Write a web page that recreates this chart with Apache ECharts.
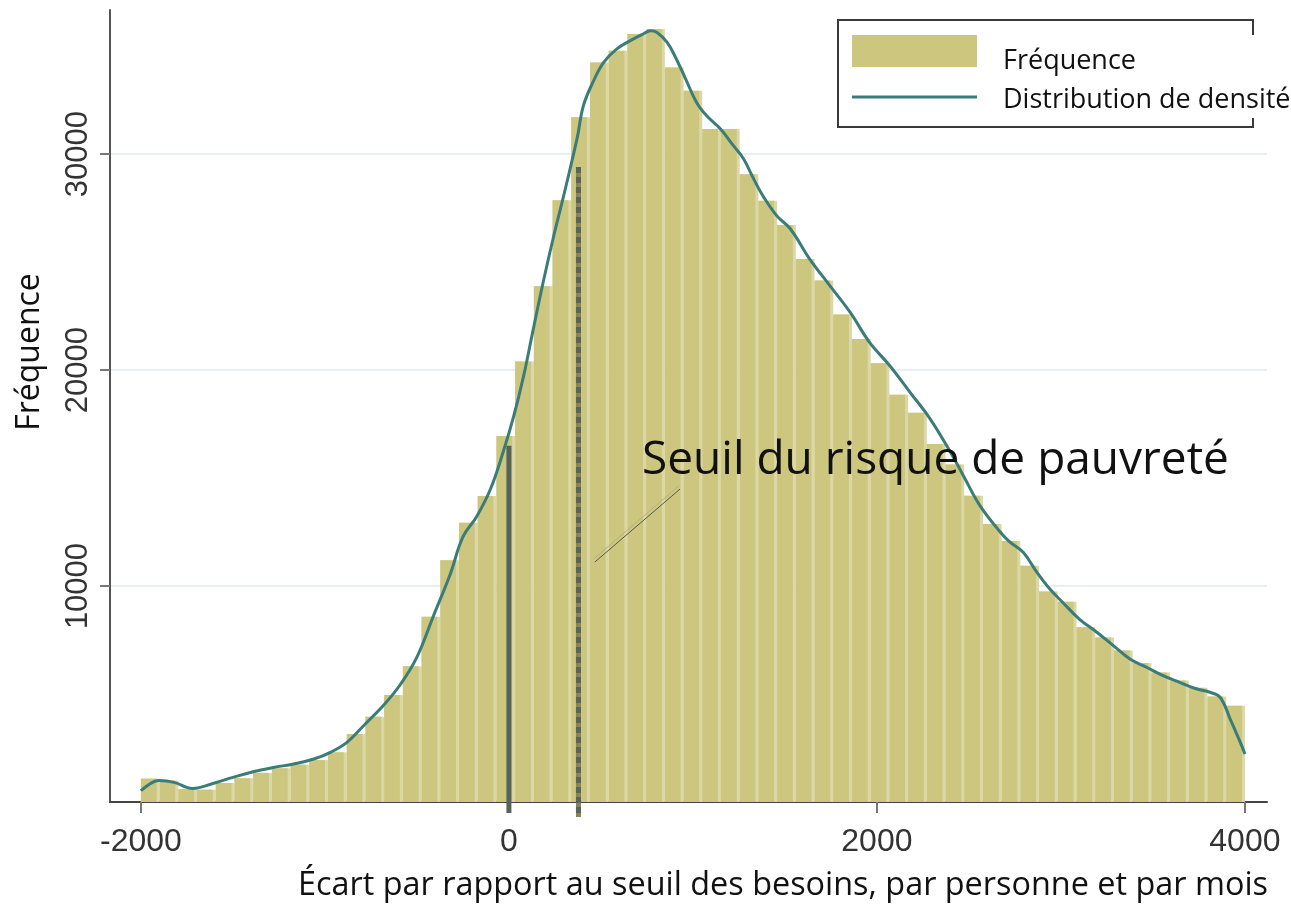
<!DOCTYPE html>
<html>
<head>
<meta charset="utf-8">
<script src="https://cdn.jsdelivr.net/npm/echarts@6/dist/echarts.min.js"></script>
<style>
  html, body { margin: 0; padding: 0; background: #fff; }
  #chart { width: 1291px; height: 908px; }
</style>
</head>
<body>
<div id="chart"></div>
<script>
// histogram bins: 59 bins between -2000 and 4000
var binStart = -2000;
var binEnd = 4000;
var binCounts = [
  1080, 990, 600, 570, 880, 1100, 1350, 1560, 1730, 1940,
  2300, 3150, 3950, 4950, 6280, 8580, 11190, 12930, 14170, 16950,
  20400, 23880, 27860, 31700, 34240, 34780, 35560, 35790, 34010, 32930,
  31160, 31160, 29070, 27840, 26720, 25140, 24140, 22570, 21440, 20320,
  18860, 18020, 16570, 15630, 14180, 12870, 12080, 10940, 9750, 9270,
  8090, 7620, 7010, 6430, 6000, 5620, 5290, 4880, 4460
];

// density curve (scaled to frequency)
var densityX = [-2000, -1900, -1820, -1720, -1600, -1500, -1390, -1280, -1170, -1060,
  -970, -880, -790, -680, -590, -500, -410, -320, -250, -175,
  -100, -30, 25, 80, 130, 185, 240, 295, 370, 405,
  460, 515, 585, 660, 730, 770, 805, 860, 910, 965,
  1020, 1075, 1150, 1220, 1275, 1330, 1380, 1455, 1530, 1635,
  1745, 1855, 1960, 2070, 2180, 2290, 2400, 2470, 2560, 2670,
  2720, 2795, 2870, 2940, 3010, 3100, 3195, 3285, 3375, 3465,
  3555, 3645, 3740, 3810, 3865, 3920, 3975, 4000];
var densityY = [520, 990, 910, 630, 880, 1140, 1400, 1600, 1760, 1990,
  2300, 2760, 3530, 4490, 5440, 6710, 8620, 10520, 12270, 13220,
  14490, 16240, 17830, 19730, 21790, 24020, 26080, 27980, 30700, 32240,
  33390, 34245, 34860, 35250, 35560, 35710, 35630, 35170, 34400, 33390,
  32390, 31770, 31160, 30390, 29780, 28850, 28070, 27150, 26530, 25140,
  23900, 22670, 21280, 20200, 18970, 17730, 16190, 15110, 13720, 12500,
  12050, 11560, 10630, 9860, 9240, 8470, 7860, 7240, 6620, 6240,
  5850, 5540, 5230, 5080, 4850, 3840, 2760, 2220];

// vertical reference lines: zero gap and poverty-risk threshold
var refLineX = [0, 378];
var refLineTop = [16500, 29400];

var xTicks = [-2000, 0, 2000, 4000];
var yTicks = [10000, 20000, 30000];

var barColor = '#cdc67f';
var stripeColor = '#dcd8a6';
var curveColor = '#3a7d78';

var binWidth = (binEnd - binStart) / binCounts.length;
var barData = binCounts.map(function (c, i) {
  return [binStart + i * binWidth, binStart + (i + 1) * binWidth, c];
});
var lineData = densityX.map(function (x, i) { return [x, densityY[i]]; });
var refData = refLineX.map(function (x, i) { return [x, refLineTop[i]]; });

var chart = echarts.init(document.getElementById('chart'), null, {renderer: 'canvas'});

var option = {
  backgroundColor: '#ffffff',
  animation: false,
  grid: {left: 110, right: 24, top: 10, bottom: 106},
  xAxis: {
    type: 'value',
    min: -2168,
    max: 4120,
    axisLine: {onZero: false, lineStyle: {color: '#444', width: 2}},
    axisTick: {customValues: xTicks, length: 11, lineStyle: {color: '#777', width: 2}},
    axisLabel: {customValues: xTicks, fontFamily: 'Liberation Sans', fontSize: 32, color: '#333', margin: 24,
      formatter: function (v) { return String(v); }},
    splitLine: {show: false}
  },
  yAxis: {
    type: 'value',
    min: 0,
    max: 36670,
    interval: 10000,
    axisLine: {show: true, onZero: false, lineStyle: {color: '#555', width: 2}},
    axisTick: {show: true, customValues: yTicks, length: 10, lineStyle: {color: '#777', width: 2}},
    axisLabel: {customValues: yTicks, rotate: 90, fontFamily: 'Liberation Sans', fontSize: 31, color: '#333', margin: 16,
      formatter: function (v) { return String(v); }},
    splitLine: {show: true, interval: 0, lineStyle: {color: '#e8eef6', width: 2}}
  },
  series: [
    {
      name: 'Fréquence',
      type: 'custom',
      data: barData,
      encode: {x: [0, 1], y: 2},
      itemStyle: {color: barColor},
      z: 1,
      renderItem: function (params, api) {
        var top = api.coord([api.value(0), api.value(2)]);
        var bottom = api.coord([api.value(1), 0]);
        var w = bottom[0] - top[0];
        var h = bottom[1] - top[1];
        return {
          type: 'group',
          children: [
            {type: 'rect', shape: {x: top[0], y: top[1], width: w, height: h}, style: {fill: stripeColor}},
            {type: 'rect', shape: {x: top[0], y: top[1], width: w - 3, height: h}, style: {fill: barColor}}
          ]
        };
      }
    },
    {
      name: 'refs',
      type: 'custom',
      data: refData,
      clip: false,
      silent: true,
      z: 3,
      renderItem: function (params, api) {
        var top = api.coord([api.value(0), api.value(1)]);
        var bottom = api.coord([api.value(0), 0]);
        if (params.dataIndex === 0) {
          return {
            type: 'line',
            shape: {x1: top[0], y1: top[1], x2: bottom[0], y2: bottom[1] + 11},
            style: {stroke: '#55645a', lineWidth: 5}
          };
        }
        return {
          type: 'group',
          children: [
            {type: 'line', shape: {x1: top[0], y1: top[1], x2: bottom[0], y2: bottom[1] + 15},
              style: {stroke: '#8a8258', lineWidth: 5}},
            {type: 'line', shape: {x1: top[0], y1: top[1], x2: bottom[0], y2: bottom[1] + 15},
              style: {stroke: '#57655c', lineWidth: 5, lineDash: [6, 4]}}
          ]
        };
      }
    },
    {
      name: 'Distribution de densité',
      type: 'line',
      data: lineData,
      smooth: 0.4,
      showSymbol: false,
      symbol: 'none',
      z: 4,
      lineStyle: {color: curveColor, width: 3},
      itemStyle: {color: curveColor},
      markLine: {
        silent: true,
        symbol: ['none', 'none'],
        label: {show: false},
        data: [
          [{coord: [460, 11250], lineStyle: {color: '#b9b37c', width: 1, type: 'solid'}},
           {coord: [925, 14650]}],
          [{coord: [467, 11110], lineStyle: {color: '#4f5b55', width: 1, type: 'solid'}},
           {coord: [930, 14490]}]
        ]
      }
    }
  ],
  graphic: [
    {type: 'text', x: 30, y: 352, rotation: Math.PI / 2,
      style: {text: 'Fréquence', fontFamily: 'Open Sans', fontSize: 32, fill: '#111', align: 'center', verticalAlign: 'middle'}},
    {type: 'text', x: 1268, y: 886,
      style: {text: 'Écart par rapport au seuil des besoins, par personne et par mois', fontFamily: 'Open Sans', fontSize: 32.4, fill: '#111', align: 'right', verticalAlign: 'middle'}},
    {type: 'text', x: 642, y: 461, z: 10,
      style: {text: 'Seuil du risque de pauvreté', fontFamily: 'Open Sans', fontSize: 46, fill: '#111', align: 'left', verticalAlign: 'middle'}},
    // legend
    {type: 'polyline', z: 10, shape: {points: [[1253, 35], [1253, 20], [838, 20], [838, 127], [1253, 127], [1253, 118]]},
      style: {stroke: '#3a3a3a', lineWidth: 2, fill: null}},
    {type: 'rect', z: 10, shape: {x: 852, y: 35, width: 125, height: 32}, style: {fill: barColor}},
    {type: 'line', z: 10, shape: {x1: 852, y1: 97, x2: 977, y2: 97}, style: {stroke: curveColor, lineWidth: 3}},
    {type: 'text', x: 1003, y: 61, z: 10,
      style: {text: 'Fréquence', fontFamily: 'Open Sans', fontSize: 27, fill: '#111', verticalAlign: 'middle'}},
    {type: 'text', x: 1003, y: 100, z: 10,
      style: {text: 'Distribution de densité', fontFamily: 'Open Sans', fontSize: 27, fill: '#111', verticalAlign: 'middle'}}
  ]
};

chart.setOption(option);
</script>
</body>
</html>
